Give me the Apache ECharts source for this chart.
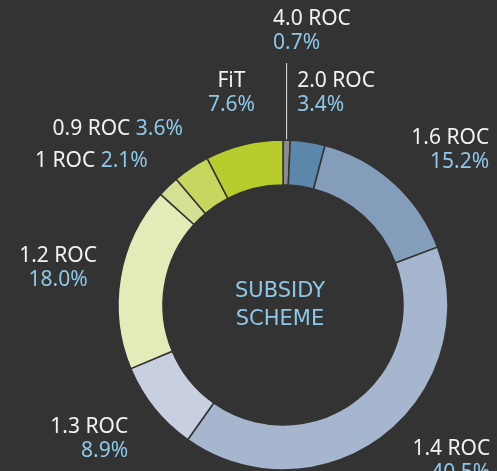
<!DOCTYPE html>
<html>
<head>
<meta charset="utf-8">
<title>Subsidy scheme</title>
<script src="https://cdn.jsdelivr.net/npm/echarts@6/dist/echarts.min.js"></script>
<style>
  html, body { margin: 0; padding: 0; background: #333333; }
  #chart { width: 497px; height: 471px; }
</style>
</head>
<body>
<div id="chart"></div>
<script>
// slices, clockwise from 12 o'clock
const schemes = ['4.0 ROC', '2.0 ROC', '1.6 ROC', '1.4 ROC', '1.3 ROC', '1.2 ROC', '1 ROC', '0.9 ROC', 'FiT']
const shares = [0.7, 3.4, 15.2, 40.5, 8.9, 18.0, 2.1, 3.6, 7.6]
const colors = ['#8c8c8c', '#5b88aa', '#849dbb', '#a6b6ce', '#c7cfe0', '#e3ebb9', '#d5e095', '#c6d65e', '#b8cc2e']

// label placement: gap past the outer edge, sideways nudge, text alignment
const labelGap = [109, 49, 44, 32, 50, 52, 35, 47, 53]
const labelNudge = [-16, -18, 66, 87, 13, -11, 4, 18, 0]
const labelAlign = ['left', 'left', 'right', 'right', 'right', 'center', 'right', 'right', 'center']
const oneLine = ['1 ROC', '0.9 ROC']

const cx = 283
const cy = 305
const rIn = 120
const rOut = 165

const total = shares.reduce((s, v) => s + v, 0)
let acc = 0
const midAngle = shares.map((v) => {
  const a = ((acc + v / 2) / total) * Math.PI * 2
  acc += v
  return a
})

const chart = echarts.init(document.getElementById('chart'))
chart.setOption({
  backgroundColor: '#333333',
  animation: false,
  color: colors,
  graphic: [
    {
      type: 'text',
      x: 280,
      y: 306,
      style: {
        text: 'SUBSIDY\nSCHEME',
        align: 'center',
        verticalAlign: 'middle',
        fill: '#8ec8e8',
        font: '21px "DejaVu Sans"',
        lineHeight: 28
      }
    }
  ],
  series: [
    {
      type: 'pie',
      center: [cx, cy],
      radius: [rIn, rOut],
      startAngle: 90,
      clockwise: true,
      avoidLabelOverlap: false,
      percentPrecision: 1,
      itemStyle: {
        borderColor: '#333333',
        borderWidth: 1.5
      },
      emphasis: { disabled: true },
      label: {
        show: true,
        position: 'outside',
        formatter(p) {
          const pct = p.percent.toFixed(1) + '%'
          return oneLine.includes(p.name)
            ? `{n|${p.name}\u00a0}{p|${pct}}`
            : `{n|${p.name}}\n{p|${pct}}`
        },
        rich: {
          n: { color: '#f2f2f2', fontSize: 21, fontFamily: 'Noto Sans', lineHeight: 24 },
          p: { color: '#8ec8e8', fontSize: 21, fontFamily: 'Noto Sans', lineHeight: 24 }
        }
      },
      labelLine: {
        show: false,
        lineStyle: { color: '#e8e8e8', width: 1 }
      },
      labelLayout(params) {
        const i = params.dataIndex
        const a = midAngle[i]
        const d = rOut + labelGap[i]
        const y = cy - d * Math.cos(a)
        const out = {
          x: cx + d * Math.sin(a) + labelNudge[i],
          y: y,
          align: labelAlign[i],
          verticalAlign: 'middle'
        }
        if (i === 0) {
          const ex = cx + rOut * Math.sin(a)
          out.labelLinePoints = [[ex, cy - rOut * Math.cos(a)], [ex, y + 32]]
        }
        return out
      },
      data: schemes.map((name, i) => ({
        name: name,
        value: shares[i],
        labelLine: i === 0 ? { show: true } : undefined
      }))
    }
  ]
})
</script>
</body>
</html>
